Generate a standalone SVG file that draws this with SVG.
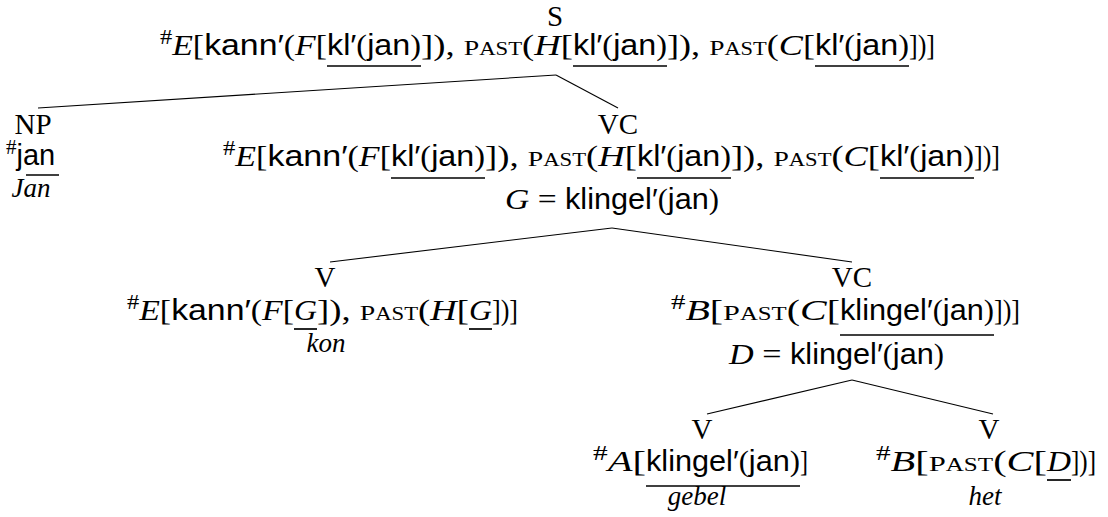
<svg xmlns="http://www.w3.org/2000/svg" width="1108" height="517" viewBox="0 0 1108 517">
<style>
text { font-family: "Liberation Serif", serif; font-size: 29px; fill: #000; }
.i { font-style: italic; }
.s { font-family: "Liberation Sans", sans-serif; }
.sup { font-size: 21px; }
.p { font-size: 22px; }
.a { font-size: 18px; }
.lab { text-anchor: middle; }
.gl { font-style: italic; text-anchor: middle; font-size: 27px; }
.ul { stroke: #000; stroke-width: 1.7; }
.edge { stroke: #000; stroke-width: 1.1; fill: none; }
</style>
<rect width="1108" height="517" fill="#fff"/>

<g id="connectors">
<line class="edge" x1="556" y1="75" x2="38" y2="108"/>
<line class="edge" x1="556" y1="75" x2="618" y2="108"/>
<line class="edge" x1="612" y1="228" x2="330" y2="262"/>
<line class="edge" x1="612" y1="228" x2="852" y2="262"/>
<line class="edge" x1="852" y1="380" x2="707" y2="414"/>
<line class="edge" x1="852" y1="380" x2="993" y2="414"/>
</g>

<g id="node-S">
<text class="lab" x="555" y="26" font-size="27">S</text>
<text x="160" y="55" textLength="167" lengthAdjust="spacingAndGlyphs"><tspan class="sup" dy="-11">#</tspan><tspan class="i" dy="11">E</tspan>[<tspan class="s">kann′</tspan>(<tspan class="i">F</tspan>[</text>
<text x="327" y="55" textLength="94" lengthAdjust="spacingAndGlyphs"><tspan class="s">kl′</tspan>(<tspan class="s">jan</tspan>)</text>
<text x="421" y="55" textLength="152" lengthAdjust="spacingAndGlyphs">]), <tspan class="p">P</tspan><tspan class="a">AST</tspan>(<tspan class="i">H</tspan>[</text>
<text x="573" y="55" textLength="94" lengthAdjust="spacingAndGlyphs"><tspan class="s">kl′</tspan>(<tspan class="s">jan</tspan>)</text>
<text x="667" y="55" textLength="148" lengthAdjust="spacingAndGlyphs">]), <tspan class="p">P</tspan><tspan class="a">AST</tspan>(<tspan class="i">C</tspan>[</text>
<text x="815" y="55" textLength="94" lengthAdjust="spacingAndGlyphs"><tspan class="s">kl′</tspan>(<tspan class="s">jan</tspan>)</text>
<text x="909" y="55" textLength="26" lengthAdjust="spacingAndGlyphs">])]</text>
<line class="ul" x1="327" y1="66" x2="421" y2="66"/>
<line class="ul" x1="573" y1="66" x2="667" y2="66"/>
<line class="ul" x1="815" y1="66" x2="909" y2="66"/>
</g>

<g id="node-NP">
<text class="lab" x="33" y="134">NP</text>
<text x="6" y="165"><tspan class="sup" dy="-11">#</tspan><tspan class="s" dy="11">jan</tspan></text>
<line class="ul" x1="26" y1="175" x2="59" y2="175"/>
<text class="gl" x="31" y="197">Jan</text>
</g>

<g id="node-VC1">
<text class="lab" x="618" y="134">VC</text>
<text x="223" y="166" textLength="168" lengthAdjust="spacingAndGlyphs"><tspan class="sup" dy="-11">#</tspan><tspan class="i" dy="11">E</tspan>[<tspan class="s">kann′</tspan>(<tspan class="i">F</tspan>[</text>
<text x="391" y="166" textLength="94" lengthAdjust="spacingAndGlyphs"><tspan class="s">kl′</tspan>(<tspan class="s">jan</tspan>)</text>
<text x="485" y="166" textLength="152" lengthAdjust="spacingAndGlyphs">]), <tspan class="p">P</tspan><tspan class="a">AST</tspan>(<tspan class="i">H</tspan>[</text>
<text x="637" y="166" textLength="94" lengthAdjust="spacingAndGlyphs"><tspan class="s">kl′</tspan>(<tspan class="s">jan</tspan>)</text>
<text x="731" y="166" textLength="149" lengthAdjust="spacingAndGlyphs">]), <tspan class="p">P</tspan><tspan class="a">AST</tspan>(<tspan class="i">C</tspan>[</text>
<text x="880" y="166" textLength="94" lengthAdjust="spacingAndGlyphs"><tspan class="s">kl′</tspan>(<tspan class="s">jan</tspan>)</text>
<text x="974" y="166" textLength="26" lengthAdjust="spacingAndGlyphs">])]</text>
<line class="ul" x1="391" y1="178" x2="485" y2="178"/>
<line class="ul" x1="637" y1="178" x2="731" y2="178"/>
<line class="ul" x1="880" y1="178" x2="974" y2="178"/>
<text x="505" y="209" textLength="60" lengthAdjust="spacingAndGlyphs"><tspan class="i">G</tspan>&#160;=&#160;</text>
<text x="565" y="209" textLength="154" lengthAdjust="spacingAndGlyphs"><tspan class="s">klingel′</tspan>(<tspan class="s">jan</tspan>)</text>
</g>

<g id="node-V1">
<text class="lab" x="325" y="287">V</text>
<text x="127" y="320" textLength="167" lengthAdjust="spacingAndGlyphs"><tspan class="sup" dy="-11">#</tspan><tspan class="i" dy="11">E</tspan>[<tspan class="s">kann′</tspan>(<tspan class="i">F</tspan>[</text>
<text class="i" x="294" y="320" textLength="23" lengthAdjust="spacingAndGlyphs">G</text>
<text x="317" y="320" textLength="152" lengthAdjust="spacingAndGlyphs">]), <tspan class="p">P</tspan><tspan class="a">AST</tspan>(<tspan class="i">H</tspan>[</text>
<text class="i" x="469" y="320" textLength="23" lengthAdjust="spacingAndGlyphs">G</text>
<text x="492" y="320" textLength="26" lengthAdjust="spacingAndGlyphs">])]</text>
<line class="ul" x1="294" y1="329" x2="317" y2="329"/>
<line class="ul" x1="469" y1="329" x2="492" y2="329"/>
<text class="gl" x="326" y="352">kon</text>
</g>

<g id="node-VC2">
<text class="lab" x="852" y="287">VC</text>
<text x="671" y="320" textLength="169" lengthAdjust="spacingAndGlyphs"><tspan class="sup" dy="-11">#</tspan><tspan class="i" dy="11">B</tspan>[<tspan class="p">P</tspan><tspan class="a">AST</tspan>(<tspan class="i">C</tspan>[</text>
<text x="840" y="320" textLength="154" lengthAdjust="spacingAndGlyphs"><tspan class="s">klingel′</tspan>(<tspan class="s">jan</tspan>)</text>
<text x="994" y="320" textLength="26" lengthAdjust="spacingAndGlyphs">])]</text>
<line class="ul" x1="840" y1="335" x2="994" y2="335"/>
<text x="729" y="364" textLength="61" lengthAdjust="spacingAndGlyphs"><tspan class="i">D</tspan>&#160;=&#160;</text>
<text x="790" y="364" textLength="154" lengthAdjust="spacingAndGlyphs"><tspan class="s">klingel′</tspan>(<tspan class="s">jan</tspan>)</text>
</g>

<g id="node-V2">
<text class="lab" x="702" y="439">V</text>
<text x="593" y="471" textLength="53" lengthAdjust="spacingAndGlyphs"><tspan class="sup" dy="-11">#</tspan><tspan class="i" dy="11">A</tspan>[</text>
<text x="646" y="471" textLength="154" lengthAdjust="spacingAndGlyphs"><tspan class="s">klingel′</tspan>(<tspan class="s">jan</tspan>)</text>
<text x="800" y="471" textLength="8" lengthAdjust="spacingAndGlyphs">]</text>
<line class="ul" x1="646" y1="486" x2="800" y2="486"/>
<text class="gl" x="697" y="505">gebel</text>
</g>

<g id="node-V3">
<text class="lab" x="989" y="439">V</text>
<text x="876" y="471" textLength="171" lengthAdjust="spacingAndGlyphs"><tspan class="sup" dy="-11">#</tspan><tspan class="i" dy="11">B</tspan>[<tspan class="p">P</tspan><tspan class="a">AST</tspan>(<tspan class="i">C</tspan>[</text>
<text class="i" x="1047" y="471" textLength="24" lengthAdjust="spacingAndGlyphs">D</text>
<text x="1071" y="471" textLength="25" lengthAdjust="spacingAndGlyphs">])]</text>
<line class="ul" x1="1047" y1="480" x2="1071" y2="480"/>
<text class="gl" x="985" y="505">het</text>
</g>
</svg>
